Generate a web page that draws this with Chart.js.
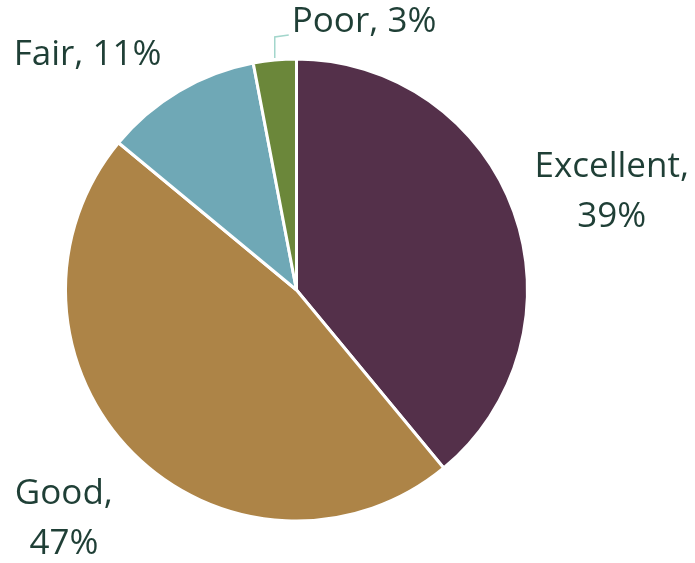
<!DOCTYPE html>
<html>
<head>
<meta charset="utf-8">
<script src="https://cdn.jsdelivr.net/npm/chart.js@4/dist/chart.umd.min.js"></script>
<style>
  html, body { margin: 0; padding: 0; background: #fff; }
  #wrap { width: 695px; height: 563px; }
</style>
</head>
<body>
<div id="wrap"><canvas id="pie"></canvas></div>
<script>
// Rating share, clockwise from 12 o'clock
const categories = ['Excellent', 'Good', 'Fair', 'Poor'];
const shares = [39, 47, 11, 3];
const sliceColors = ['#54304a', '#ad8447', '#6fa8b6', '#6b873a'];

const TEXT = '#1f3f36';
const FONT = '"Open Sans", "Noto Sans", sans-serif';

// Outside labels: distance from the rim plus a small nudge, some split on two lines
const labelStyle = [
  { lines: 2, gap: 104, dx: 0, dy: 16 },
  { lines: 2, gap: 98, dx: 0, dy: -4 },
  { lines: 1, gap: 42, dx: -70, dy: 0 },
  { lines: 1, gap: 0, dx: 0, dy: 0, leader: true }
];

const outsideLabels = {
  id: 'outsideLabels',
  afterDatasetsDraw(chart) {
    const ctx = chart.ctx;
    const meta = chart.getDatasetMeta(0);
    ctx.save();
    ctx.font = '35px ' + FONT;
    ctx.fillStyle = TEXT;
    ctx.textAlign = 'center';
    ctx.textBaseline = 'middle';
    meta.data.forEach((arc, i) => {
      const st = labelStyle[i];
      const mid = (arc.startAngle + arc.endAngle) / 2;
      const name = categories[i] + ',';
      const pct = shares[i] + '%';
      if (st.leader) {
        // short elbow line from the thin slice up to its label
        const ex = arc.x + Math.cos(mid) * arc.outerRadius;
        const ey = arc.y + Math.sin(mid) * arc.outerRadius;
        ctx.strokeStyle = '#a3d6cc';
        ctx.lineWidth = 1.5;
        ctx.beginPath();
        ctx.moveTo(ex, ey - 2);
        ctx.lineTo(ex, ey - 23);
        ctx.lineTo(ex + 14, ey - 25);
        ctx.stroke();
        ctx.textAlign = 'left';
        ctx.fillText(name + ' ' + pct, ex + 17, ey - 38);
        ctx.textAlign = 'center';
        return;
      }
      const r = arc.outerRadius + st.gap;
      const x = arc.x + Math.cos(mid) * r + st.dx;
      const y = arc.y + Math.sin(mid) * r + st.dy;
      if (st.lines === 2) {
        ctx.fillText(name, x, y - 25);
        ctx.fillText(pct, x, y + 25);
      } else {
        ctx.fillText(name + ' ' + pct, x, y);
      }
    });
    ctx.restore();
  }
};

new Chart(document.getElementById('pie'), {
  type: 'pie',
  data: {
    labels: categories,
    datasets: [{
      data: shares,
      backgroundColor: sliceColors,
      borderColor: '#ffffff',
      borderWidth: 3
    }]
  },
  options: {
    responsive: true,
    maintainAspectRatio: false,
    animation: false,
    layout: { padding: { top: 57, bottom: 40, left: 64, right: 166 } },
    plugins: { legend: { display: false }, tooltip: { enabled: false } }
  },
  plugins: [outsideLabels]
});
</script>
</body>
</html>
